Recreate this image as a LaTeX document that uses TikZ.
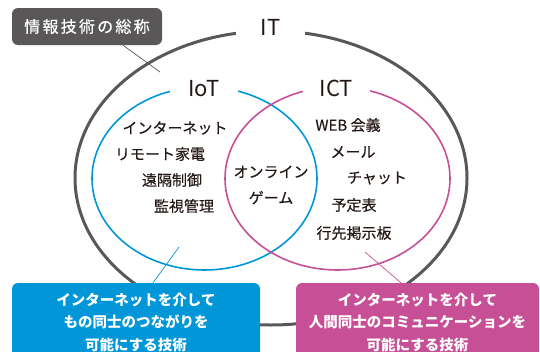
\documentclass[tikz,border=0pt]{standalone}
\usepackage{fontspec}
\setmainfont{Noto Sans CJK JP}
\usetikzlibrary{positioning}
\definecolor{itgray}{HTML}{595757}
\definecolor{iotblue}{HTML}{0096D8}
\definecolor{ictpink}{HTML}{C64F96}
\definecolor{ink}{HTML}{231815}

\begin{document}
\begin{tikzpicture}[x=1pt,y=-1pt,
  setname/.style={fill=white, text=ink, font=\fontsize{22}{24}\selectfont},
  term/.style={text=ink, font=\fontsize{15}{18}\selectfont\addfontfeature{FakeBold=0.4}},
  techbox/.style={rounded corners=6pt, text=white, align=center,
    font=\bfseries\fontsize{14.5}{22.5}\selectfont, minimum height=78pt}]
  \useasboundingbox (0,0) rectangle (540,351);
  % the three sets
  \draw[itgray, line width=3pt] (271,178) ellipse [x radius=196, y radius=147];
  \draw[iotblue, line width=1.6pt] (204.5,178.5) ellipse [x radius=112.5, y radius=91.5];
  \draw[ictpink, line width=1.6pt] (337.5,178.5) ellipse [x radius=112.5, y radius=91.5];
  \node[setname, minimum width=69pt] (it) at (270.5,27.5) {IT};
  \node[setname, minimum width=68pt] (iot) at (204,88.5) {IoT};
  \node[setname, minimum width=67pt] (ict) at (336.5,88.5) {ICT};
  % IoT side
  \node[term] (inet) at (175,128) {インターネット};
  \node[term] (remote) at (160,154) {リモート家電};
  \node[term] (control) at (172,180) {遠隔制御};
  \node[term] (monitor) at (184,206) {監視管理};
  % both
  \node[term, align=center, font=\fontsize{15}{26}\selectfont\addfontfeature{FakeBold=0.4}] (game) at (271,185) {オンライン\\ゲーム};
  % ICT side
  \node[term] (web) at (348,125) {WEB 会義};
  \node[term] (mail) at (353,152) {メール};
  \node[term] (chat) at (377,178) {チャット};
  \node[term] (sched) at (354,205) {予定表};
  \node[term] (board) at (354,233) {行先掲示板};
  % callouts
  \node[fill=itgray, rounded corners=6pt, text=white, minimum width=150pt, minimum height=37pt,
    font=\fontsize{16}{18}\selectfont\addfontfeature{LetterSpace=14,FakeBold=0.5}] (itlabel) at (87,26.5) {情報技術の総称};
  \coordinate (itpt) at (160,72);
  \draw[itgray, line width=0.7pt] ([xshift=36pt]itlabel.south) -- (itpt);
  \node[techbox, fill=iotblue, minimum width=248pt] (iotbox) at (136,322)
    {インターネットを介して\\もの同士のつながりを\\可能にする技術};
  \node[techbox, fill=ictpink, minimum width=243pt] (ictbox) at (417.5,322)
    {インターネットを介して\\人間同士のコミュニケーションを\\可能にする技術};
  \coordinate (iotpt) at (179,247);
  \coordinate (ictpt) at (365,252);
  \draw[iotblue, line width=0.7pt] ([xshift=17pt]iotbox.north) -- (iotpt);
  \draw[ictpink, line width=0.7pt] ([xshift=-16.5pt]ictbox.north) -- (ictpt);
\end{tikzpicture}
\end{document}
